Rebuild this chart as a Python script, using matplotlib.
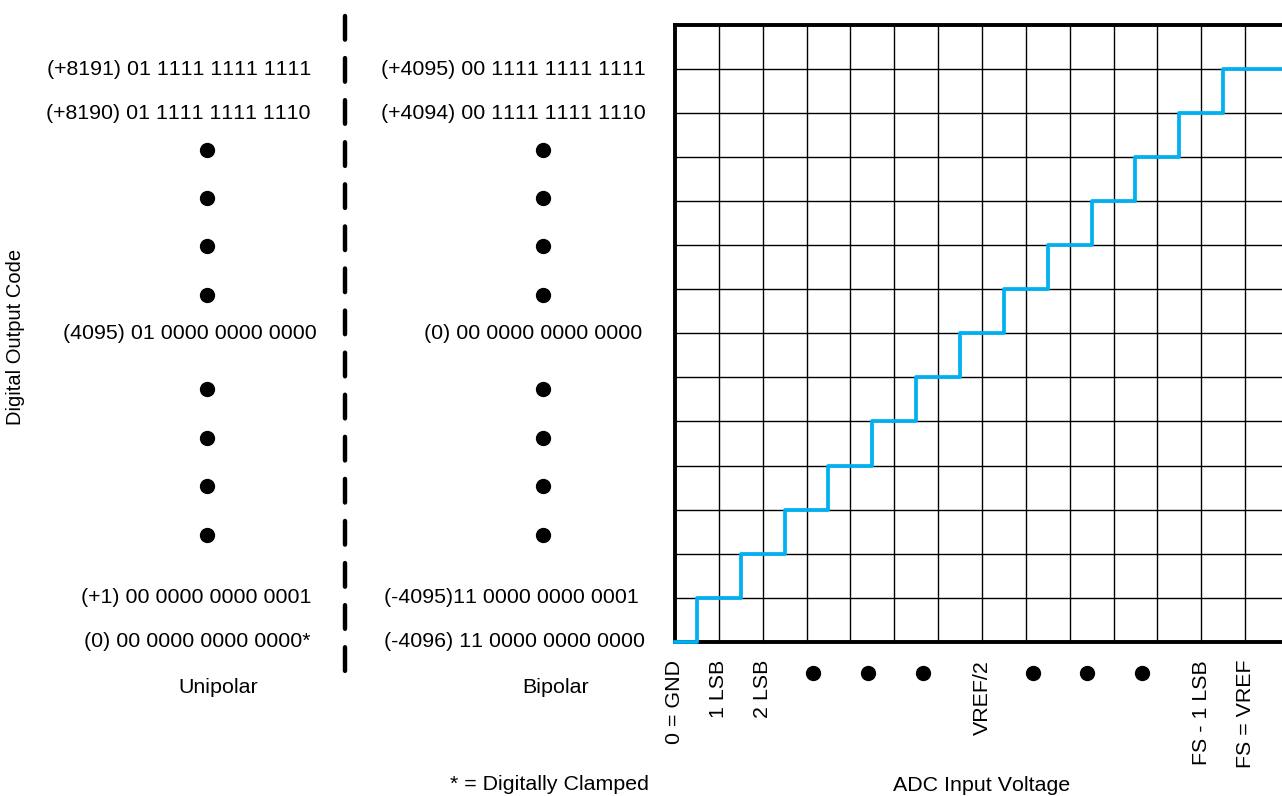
import numpy as np
import matplotlib.pyplot as plt
from matplotlib.transforms import blended_transform_factory

plt.rcParams['font.family'] = ['Liberation Sans', 'DejaVu Sans']
plt.rcParams['lines.scale_dashes'] = False
plt.rcParams['text.kerning_factor'] = 6  # practically no kerning, like the original

# ideal transfer function: output code steps up at every half LSB
step_x = [0, 0.5, 1.5, 2.5, 3.5, 4.5, 5.5, 6.5, 7.5, 8.5, 9.5, 10.5, 11.5, 12.5, 14]
step_code = [0, 1, 2, 3, 4, 5, 6, 7, 8, 9, 10, 11, 12, 13, 13]

n_cols = 14
n_rows = 14

# x axis labels
x_tick_pos = [0, 1, 2, 7, 12, 13]
x_tick_labels = ['0 = GND', '1 LSB', '2 LSB', 'VREF/2', 'FS - 1 LSB', 'FS = VREF']
x_gap_dots = [3.15, 4.41, 5.66, 8.16, 9.39, 10.64]

# output code table (rows of the grid)
code_rows = [13, 12, 7, 1, 0]
unipolar_codes = ['(+8191) 01 1111 1111 1111',
                  '(+8190) 01 1111 1111 1110',
                  '(4095) 01 0000 0000 0000',
                  '(+1) 00 0000 0000 0001',
                  '(0) 00 0000 0000 0000*']
bipolar_codes = ['(+4095) 00 1111 1111 1111',
                 '(+4094) 00 1111 1111 1110',
                 '(0) 00 0000 0000 0000',
                 '(-4095)11 0000 0000 0001',
                 '(-4096) 11 0000 0000 0000']
gap_rows = [11.16, 10.07, 8.98, 7.87, 5.73, 4.62, 3.53, 2.42]

W, H = 1282, 796
BLUE = '#00B0F0'
FS = 15.4

fig = plt.figure(figsize=(W / 100, H / 100), dpi=100)
cell_w, cell_h = 43.85, 44.05
ax = fig.add_axes([675 / W, (H - 641.7) / H, n_cols * cell_w / W, n_rows * cell_h / H])
ax.set_xlim(0, n_cols)
ax.set_ylim(0, n_rows)

# grid
for i in range(1, n_cols):
    ax.axvline(i, color='black', lw=1.0, zorder=1)
for j in range(1, n_rows):
    ax.axhline(j, color='black', lw=1.0, zorder=1)
for s in ax.spines.values():
    s.set_linewidth(2.8)
    s.set_color('black')

# staircase
ax.step(step_x, step_code, where='post', color=BLUE, lw=2.7, zorder=5, clip_on=False)

ax.set_yticks([])
ax.set_xticks(x_tick_pos, x_tick_labels, rotation=90, fontsize=FS)
ax.tick_params(axis='x', length=0, pad=13)
ax.plot(x_gap_dots, [-0.71] * len(x_gap_dots), 'o', color='black', ms=10, clip_on=False)
ax.text(7, -3.4, 'ADC Input Voltage', ha='center', va='baseline', fontsize=FS)

# left side: code table
blend = blended_transform_factory(fig.transFigure, ax.transData)
uni_right = [311, 311, 317, 311, 311]
bi_right = [646, 646, 642, 639, 645]
for r, t, xr in zip(code_rows, unipolar_codes, uni_right):
    ax.text(xr / W, r, t, transform=blend, ha='right', va='center', fontsize=FS, clip_on=False)
for r, t, xr in zip(code_rows, bipolar_codes, bi_right):
    ax.text(xr / W, r, t, transform=blend, ha='right', va='center', fontsize=FS, clip_on=False)

ax.plot([207 / W] * len(gap_rows), gap_rows, 'o', color='black', ms=10,
        transform=blend, clip_on=False)
ax.plot([543 / W] * len(gap_rows), gap_rows, 'o', color='black', ms=10,
        transform=blend, clip_on=False)

# dashed divider
ax.plot([345 / W, 345 / W], [14.2, -0.69], color='black', lw=3.2,
        linestyle=(0, (17, 13.3)), dash_capstyle='round', transform=blend, clip_on=False)

ax.text(218 / W, -1.03, 'Unipolar', transform=blend, ha='center', va='center', fontsize=FS)
ax.text(556 / W, -1.03, 'Bipolar', transform=blend, ha='center', va='center', fontsize=FS)
ax.text(549 / W, -3.37, '* = Digitally Clamped', transform=blend, ha='center',
        va='baseline', fontsize=FS)
ax.text(16 / W, 6.92, 'Digital Output Code', transform=blend, ha='center', va='center',
        rotation=90, fontsize=14.5)

fig.savefig('out.png', dpi=100)
